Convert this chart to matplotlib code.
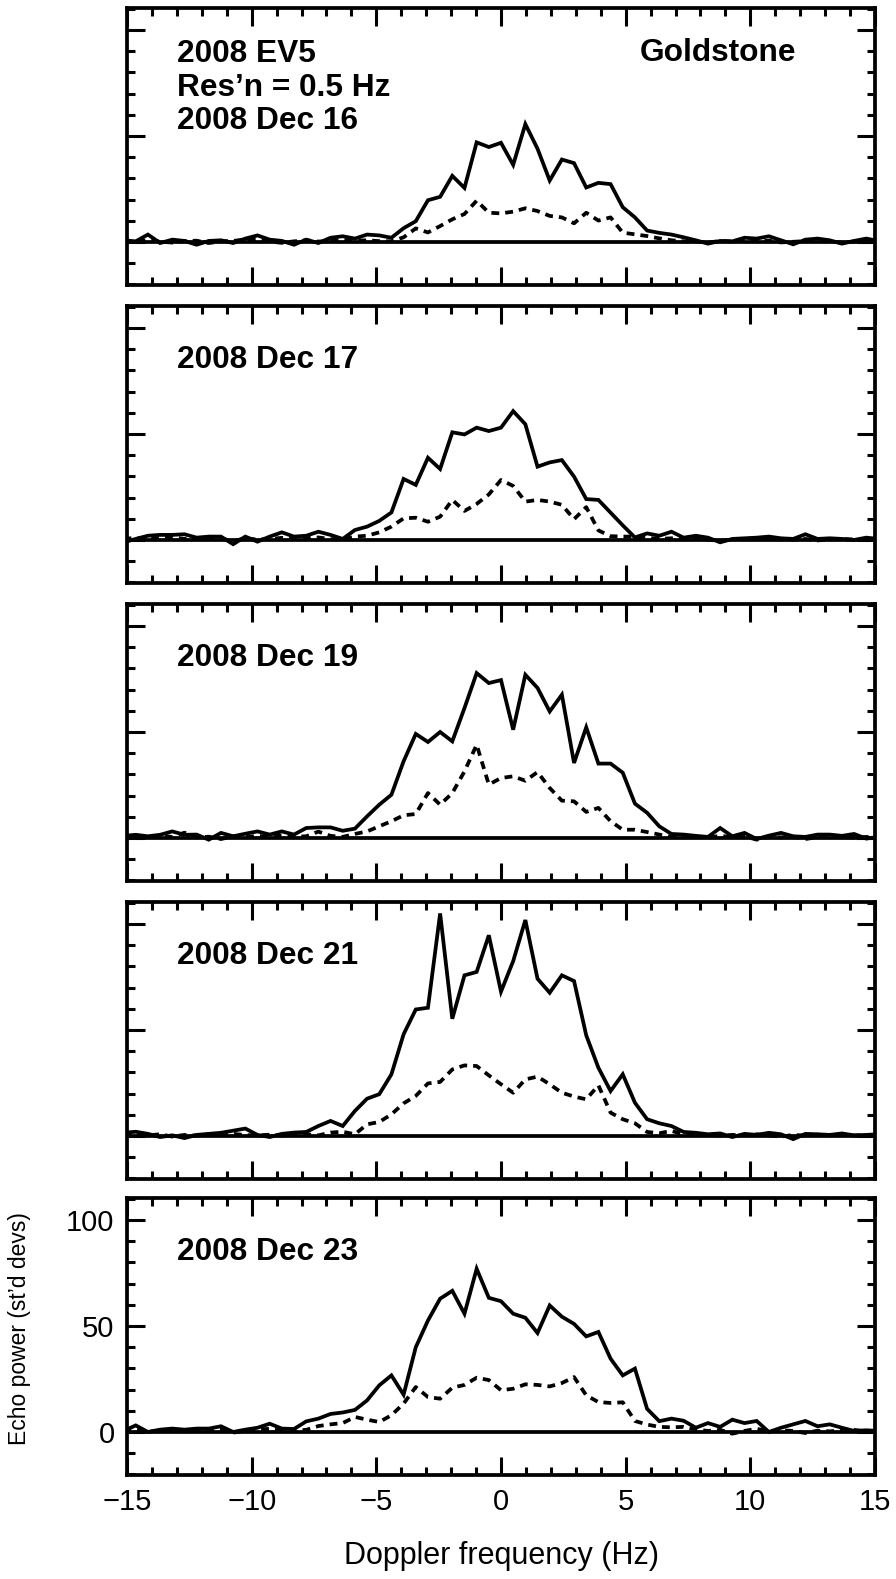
import numpy as np
import matplotlib
matplotlib.use("Agg")
import matplotlib.pyplot as plt
from matplotlib.ticker import MultipleLocator

plt.rcParams["font.family"] = ["Liberation Sans", "DejaVu Sans"]

# Doppler bins, 0.488 Hz apart, k = -31 .. 31
bin_step = 0.4883
freq = np.arange(-31, 32) * bin_step

# echo power (st'd devs); solid = OC, dashed = SC
dec16_oc = [0.8, 0.3, 3.5, -0.5, 1.1, 0.5, -1.3, 0.5, 0.8, -0.5,
            1.6, 3.1, 1.1, 0.5, -1.3, 1.1, -0.5, 2.0, 2.7, 1.6,
            3.5, 3.1, 2.0, 6.5, 9.8, 19.7, 21.3, 31.2, 25.5, 47.0,
            44.8, 46.8, 36.4, 55.6, 44.0, 29.0, 38.9, 37.2, 25.7, 27.9,
            27.3, 16.4, 11.6, 5.4, 4.3, 3.5, 2.2, 0.8, -0.8, 0.5,
            0.3, 2.0, 1.6, 2.7, 0.8, -1.1, 1.1, 1.6, 0.8, -0.8,
            0.5, 1.6, 0.5]
dec16_sc = [0.3, 0.5, 0.8, 0.2, -0.3, 0.4, 0.6, -0.5, 0.3, 0.5,
            1.2, 1.0, 0.2, -0.4, 0.3, 0.8, 0.2, 0.5, 1.0, 0.6,
            0.8, 0.4, 0.3, 2.2, 6.4, 4.5, 7.5, 10.7, 13.2, 19.5,
            13.8, 13.5, 14.3, 15.9, 14.6, 12.3, 11.6, 8.8, 13.8, 10.1,
            11.6, 4.4, 3.6, 2.8, 1.7, 0.8, 0.3, 0.2, -0.3, 0.5,
            0.2, 0.8, 0.3, 0.6, -0.2, 0.1, 0.4, 0.5, 0.2, -0.3,
            0.2, 0.4, 0.3]

dec17_oc = [-1.1, 0.5, 2.0, 2.4, 2.4, 2.7, 1.1, 1.6, 1.6, -2.0,
            1.6, -0.8, 1.6, 3.6, 1.6, 2.0, 3.9, 2.4, 0.5, 4.7,
            6.3, 9.0, 13.0, 28.8, 26.0, 38.8, 33.5, 50.8, 49.8, 53.0,
            51.4, 53.0, 60.8, 54.6, 34.6, 36.6, 37.7, 29.9, 19.3, 18.9,
            12.9, 6.9, 1.2, 3.1, 2.0, 3.9, 1.1, 2.0, 1.1, -1.1,
            0.5, 0.8, 1.1, 1.6, 0.8, 0.5, 2.7, 0.5, 0.8, 0.5,
            0.0, 1.1, 0.5]
dec17_sc = [0.5, 1.0, 0.3, 0.8, 1.2, 0.5, 1.0, 0.4, 0.6, -0.5,
            0.8, 0.2, 0.5, 1.0, 0.6, 0.8, 1.2, 0.4, 0.3, 1.6,
            2.0, 3.6, 6.3, 10.2, 10.5, 8.6, 11.0, 18.9, 13.7, 17.0,
            21.5, 28.3, 25.5, 18.1, 18.9, 18.1, 16.6, 9.8, 15.5, 4.5,
            1.8, 1.6, 1.6, 1.0, 0.5, 0.8, 0.3, 0.5, 0.2, -0.5,
            0.3, 0.6, 0.4, 0.8, 0.3, 0.2, 0.5, -0.2, 0.3, 0.5,
            0.2, 0.4, 0.3]

dec19_oc = [1.0, 1.5, 0.8, 1.5, 3.1, 1.5, 1.6, -0.8, 2.4, 0.8,
            2.0, 3.1, 1.6, 3.1, 1.6, 4.7, 5.0, 5.0, 3.4, 4.4,
            10.2, 15.7, 20.4, 36.2, 49.1, 45.3, 50.0, 45.6, 61.3, 77.8,
            73.1, 74.5, 51.1, 77.0, 70.8, 59.7, 67.6, 35.4, 52.2, 35.1,
            35.1, 30.8, 16.2, 11.9, 5.5, 1.9, 1.6, 1.0, 0.5, 4.7,
            0.8, 2.4, -0.5, 1.1, 2.4, 0.8, 0.5, 1.6, 1.6, 1.0,
            1.9, -0.3, 0.5]
dec19_sc = [0.5, 0.8, 0.3, 1.0, 0.5, 2.5, 0.3, 0.6, -0.5, 0.8,
            0.4, 1.0, 0.5, 1.2, 0.6, 0.8, 3.0, 1.0, 0.5, 1.9,
            3.1, 5.5, 7.9, 10.7, 11.3, 21.2, 15.7, 21.2, 31.4, 44.0,
            25.2, 28.3, 29.1, 27.0, 31.1, 23.6, 17.6, 17.3, 12.3, 14.2,
            7.9, 3.9, 3.9, 2.8, 1.6, 0.5, 0.3, 0.6, 0.2, 1.0,
            0.4, 0.8, -0.8, 0.5, 0.3, 0.6, -0.5, 0.4, 0.8, 0.3,
            0.2, 0.5, 0.3]

dec21_oc = [1.5, 2.0, 1.0, -0.5, 0.3, -1.0, 0.5, 1.0, 1.5, 2.5,
            3.5, 0.5, -0.5, 1.0, 1.6, 1.9, 4.7, 7.1, 4.7, 11.8,
            17.6, 19.7, 29.1, 48.0, 59.7, 60.5, 105.0, 55.3, 75.8, 77.4,
            94.7, 68.1, 82.5, 101.9, 74.2, 67.6, 75.8, 73.1, 47.5, 32.2,
            21.2, 29.1, 15.7, 7.9, 6.0, 4.7, 1.9, 1.5, 0.8, 1.2,
            -0.5, 1.0, 0.5, 1.5, 0.8, -1.5, 1.0, 0.8, 0.5, 1.2,
            0.3, 0.5, 0.8]
dec21_sc = [0.5, 1.0, 0.3, 0.8, -0.3, 0.5, 0.2, 0.8, 0.5, 1.0,
            0.4, 0.3, 0.6, 0.2, 0.5, 0.8, 0.3, 1.6, 2.0, 0.8,
            5.5, 6.6, 10.2, 15.4, 18.9, 24.8, 25.5, 31.4, 33.3, 33.0,
            28.6, 24.4, 20.4, 26.7, 28.0, 24.4, 20.4, 18.6, 17.3, 23.9,
            11.0, 7.9, 6.0, 1.9, 1.3, 2.4, 0.8, 0.3, 0.6, 0.2,
            0.5, 0.4, 0.8, 0.3, -0.3, 0.5, 0.2, 0.6, 0.3, 0.5,
            0.2, 0.4, 0.3]

dec23_oc = [0.5, 3.1, 0.0, 1.1, 1.6, 1.1, 1.6, 1.6, 2.7, 0.0,
            1.1, 2.0, 3.9, 1.6, 1.4, 5.0, 6.3, 8.5, 9.2, 10.4,
            14.9, 22.0, 26.7, 17.6, 40.0, 52.6, 62.9, 66.6, 55.8, 77.0,
            63.3, 61.7, 55.8, 53.9, 46.7, 59.7, 54.4, 51.0, 45.1, 47.2,
            34.6, 26.7, 29.9, 10.9, 5.1, 6.3, 5.3, 2.0, 4.2, 2.4,
            5.8, 4.2, 5.2, 0.0, 2.0, 3.6, 5.2, 2.7, 3.6, 2.0,
            0.5, 0.8, 0.5]
dec23_sc = [0.3, 1.5, 0.2, 0.5, 0.8, 0.3, 0.6, 0.5, 1.0, -0.3,
            0.5, 1.2, 1.5, 0.8, 0.5, 1.0, 2.8, 3.6, 4.2, 7.1,
            5.8, 4.7, 7.9, 13.4, 21.2, 16.5, 15.7, 20.9, 22.2, 25.6,
            24.5, 19.7, 20.4, 22.5, 22.2, 21.5, 23.1, 25.9, 17.3, 14.1,
            13.7, 14.0, 5.2, 3.5, 2.4, 2.2, 2.4, 1.1, 0.5, 1.0,
            -0.8, 0.5, 1.5, 0.3, 0.8, 0.5, -0.5, 0.6, 0.3, 0.8,
            1.0, 0.2, 0.5]

dates = ["2008 Dec 16", "2008 Dec 17", "2008 Dec 19", "2008 Dec 21", "2008 Dec 23"]
oc_list = [dec16_oc, dec17_oc, dec19_oc, dec21_oc, dec23_oc]
sc_list = [dec16_sc, dec17_sc, dec19_sc, dec21_sc, dec23_sc]

W, H = 896, 1579
fig = plt.figure(figsize=(W / 100, H / 100), dpi=100)

left_px, right_px = 127, 875
tops_px = [8, 306, 604, 902, 1198]
panel_h = 277
label_size = 22.8

lw = 2.7
for i, (date, oc, sc) in enumerate(zip(dates, oc_list, sc_list)):
    top = tops_px[i]
    ax = fig.add_axes([left_px / W, 1 - (top + panel_h) / H,
                       (right_px - left_px) / W, panel_h / H])
    ax.plot(freq, oc, color="black", lw=lw, solid_joinstyle="miter")
    ax.plot(freq, sc, color="black", lw=lw, linestyle=(0, (2.1, 1.6)),
            dash_capstyle="butt")
    ax.axhline(0, color="black", lw=lw)
    ax.set_xlim(-15, 15)
    ax.set_ylim(-20.3, 110.4)

    ax.xaxis.set_major_locator(MultipleLocator(5))
    ax.xaxis.set_minor_locator(MultipleLocator(1))
    ax.yaxis.set_major_locator(MultipleLocator(50))
    ax.yaxis.set_minor_locator(MultipleLocator(10))
    ax.tick_params(which="both", direction="in", top=True, right=True,
                   width=2.2, labelsize=21, colors="black")
    ax.tick_params(which="major", length=13, pad=9)
    ax.tick_params(which="minor", length=6)
    for sp in ax.spines.values():
        sp.set_linewidth(2.7)

    if i < 4:
        ax.set_xticklabels([])
        ax.set_yticklabels([])

    if i == 0:
        for j, line in enumerate(["2008 EV5", "Res\u2019n = 0.5 Hz", date]):
            ax.text(0.067, 1 - (54 + 33.7 * j) / panel_h, line, transform=ax.transAxes,
                    fontsize=label_size, fontweight="bold", va="baseline", ha="left")
        ax.text(0.686, 1 - 53 / panel_h, "Goldstone", transform=ax.transAxes,
                fontsize=label_size, fontweight="bold", va="baseline", ha="left")
    else:
        ax.text(0.067, 1 - 62 / panel_h, date, transform=ax.transAxes,
                fontsize=label_size, fontweight="bold", va="baseline", ha="left")

fig.text(20 / W, 1 - 1329 / H, "Echo power (st\u2019d devs)", fontsize=16.5,
         rotation=90, ha="center", va="center")
fig.text(501 / W, 1 - 1556 / H, "Doppler frequency (Hz)", fontsize=22,
         ha="center", va="center")

fig.savefig("out.png", dpi=100)
